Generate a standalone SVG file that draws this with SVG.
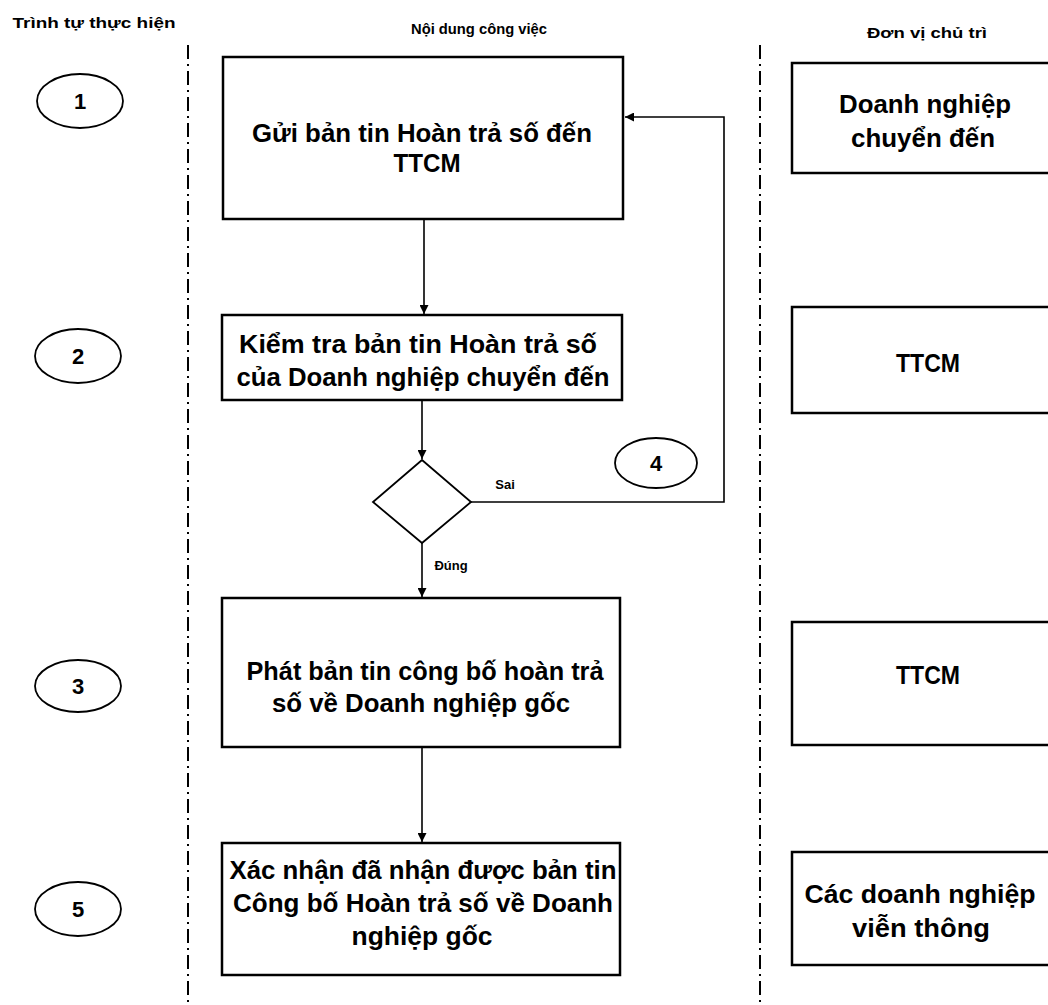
<svg xmlns="http://www.w3.org/2000/svg" width="1048" height="1005" viewBox="0 0 1048 1005">
<style>
text{font-family:"Liberation Sans",Arial,sans-serif;font-weight:bold;fill:#000;text-anchor:middle}
.hd{font-size:15px}
.bx{fill:#fff;stroke:#000;stroke-width:2.5}
.el{fill:#fff;stroke:#000;stroke-width:1.8}
.t{font-size:25px}
.n{font-size:22px}
.div{stroke:#000;stroke-width:2;stroke-dasharray:14 5 2 5;fill:none}
.cn{stroke:#000;stroke-width:1.6;fill:none;marker-end:url(#ah)}
.lb{font-size:13px}
</style>
<defs>
<marker id="ah" viewBox="0 0 10 10" refX="10" refY="5" markerWidth="10" markerHeight="9" markerUnits="userSpaceOnUse" orient="auto">
<path d="M0,0 L10,5 L0,10 z" fill="#000"/>
</marker>
</defs>
<g id="headers">
<text class="hd" x="94" y="28" textLength="163" lengthAdjust="spacingAndGlyphs">Trình tự thực hiện</text>
<text class="hd" x="479" y="34" textLength="136" lengthAdjust="spacingAndGlyphs">Nội dung công việc</text>
<text class="hd" x="927" y="38" textLength="120" lengthAdjust="spacingAndGlyphs">Đơn vị chủ trì</text>
</g>
<g id="dividers">
<line class="div" x1="188" y1="45" x2="188" y2="1005"/>
<line class="div" x1="760" y1="45" x2="760" y2="1005"/>
</g>
<g id="step1"><ellipse class="el" cx="80" cy="101" rx="43" ry="27"/><text class="n" x="80" y="109">1</text></g>
<g id="step2"><ellipse class="el" cx="78" cy="356" rx="43" ry="27"/><text class="n" x="78" y="364">2</text></g>
<g id="step3"><ellipse class="el" cx="78" cy="686" rx="43" ry="26"/><text class="n" x="78" y="694">3</text></g>
<g id="step5"><ellipse class="el" cx="78" cy="909" rx="43" ry="27"/><text class="n" x="78" y="917">5</text></g>
<g id="step4"><ellipse class="el" cx="656" cy="463" rx="41" ry="25"/><text class="n" x="656" y="471">4</text></g>
<g id="connectors">
<line class="cn" x1="424" y1="219" x2="424" y2="314"/>
<line class="cn" x1="422" y1="400" x2="422" y2="459"/>
<line class="cn" x1="422" y1="543" x2="422" y2="597"/>
<line class="cn" x1="422" y1="747" x2="422" y2="842"/>
<polyline class="cn" points="471,502 724,502 724,117 625,117"/>
<text class="lb" x="505" y="489">Sai</text>
<text class="lb" x="451" y="570">Đúng</text>
</g>
<g id="box1"><rect class="bx" x="223" y="57" width="400" height="162"/>
<text class="t" x="422" y="142" textLength="340" lengthAdjust="spacingAndGlyphs">Gửi bản tin Hoàn trả số đến</text>
<text class="t" x="427" y="172" textLength="67" lengthAdjust="spacingAndGlyphs">TTCM</text></g>
<g id="box2"><rect class="bx" x="222" y="315" width="400" height="85"/>
<text class="t" x="418" y="353" textLength="358" lengthAdjust="spacingAndGlyphs">Kiểm tra bản tin Hoàn trả số</text>
<text class="t" x="423" y="386" textLength="373" lengthAdjust="spacingAndGlyphs">của Doanh nghiệp chuyển đến</text></g>
<g id="decision"><polygon class="el" points="422,460 471,502 422,543 373,502"/></g>
<g id="box3"><rect class="bx" x="222" y="598" width="398" height="149"/>
<text class="t" x="425" y="680" textLength="357" lengthAdjust="spacingAndGlyphs">Phát bản tin công bố hoàn trả</text>
<text class="t" x="421" y="712" textLength="298" lengthAdjust="spacingAndGlyphs">số về Doanh nghiệp gốc</text></g>
<g id="box5"><rect class="bx" x="222" y="843" width="398" height="132"/>
<text class="t" x="423" y="879" textLength="387" lengthAdjust="spacingAndGlyphs">Xác nhận đã nhận được bản tin</text>
<text class="t" x="423" y="912" textLength="380" lengthAdjust="spacingAndGlyphs">Công bố Hoàn trả số về Doanh</text>
<text class="t" x="422" y="945" textLength="141" lengthAdjust="spacingAndGlyphs">nghiệp gốc</text></g>
<g id="unit1"><rect class="bx" x="792" y="63" width="263" height="110"/>
<text class="t" x="925" y="113" textLength="172" lengthAdjust="spacingAndGlyphs">Doanh nghiệp</text>
<text class="t" x="923" y="147" textLength="144" lengthAdjust="spacingAndGlyphs">chuyển đến</text></g>
<g id="unit2"><rect class="bx" x="792" y="307" width="263" height="106"/>
<text class="t" x="928" y="372" textLength="64" lengthAdjust="spacingAndGlyphs">TTCM</text></g>
<g id="unit3"><rect class="bx" x="792" y="622" width="263" height="123"/>
<text class="t" x="928" y="684" textLength="64" lengthAdjust="spacingAndGlyphs">TTCM</text></g>
<g id="unit4"><rect class="bx" x="792" y="852" width="263" height="113"/>
<text class="t" x="920" y="903" textLength="231" lengthAdjust="spacingAndGlyphs">Các doanh nghiệp</text>
<text class="t" x="921" y="937" textLength="138" lengthAdjust="spacingAndGlyphs">viễn thông</text></g>
</svg>
